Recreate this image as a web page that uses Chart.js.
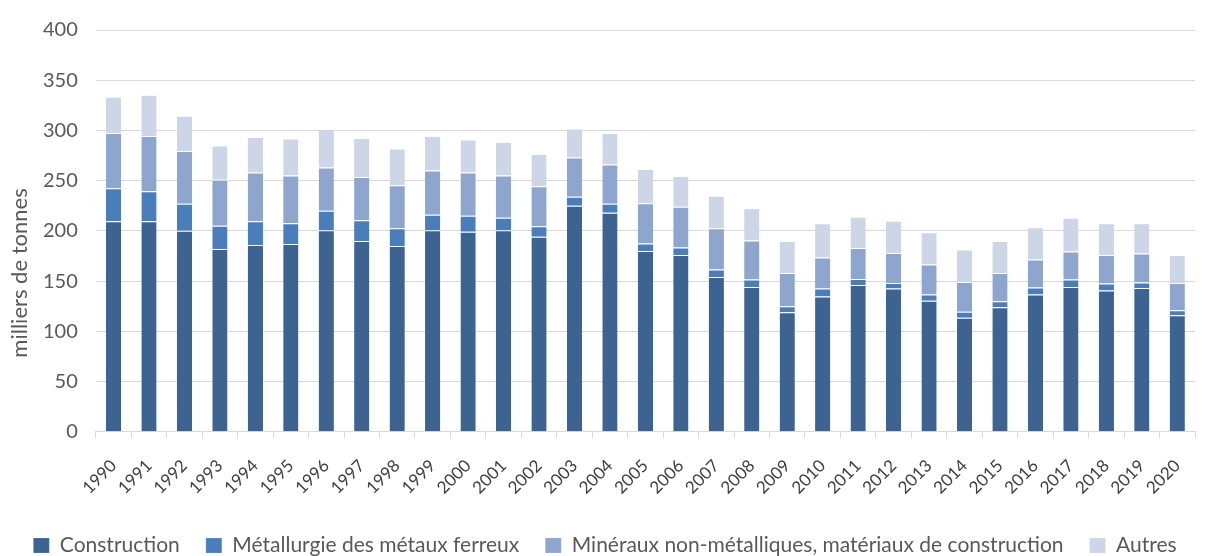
<!DOCTYPE html>
<html>
<head>
<meta charset="utf-8">
<script src="https://cdn.jsdelivr.net/npm/chart.js@4/dist/chart.umd.min.js"></script>
<style>
  html, body { margin: 0; padding: 0; background: #fff; }
  #wrap { width: 1210px; height: 556px; }
</style>
</head>
<body>
<div id="wrap"><canvas id="barChart"></canvas></div>
<script>
// Années
const years = ['1990', '1991', '1992', '1993', '1994', '1995', '1996', '1997', '1998', '1999',
               '2000', '2001', '2002', '2003', '2004', '2005', '2006', '2007', '2008', '2009',
               '2010', '2011', '2012', '2013', '2014', '2015', '2016', '2017', '2018', '2019', '2020'];

// milliers de tonnes par secteur
const construction = [209.5, 209.5, 200, 182, 186, 187, 200.5, 190, 185, 200.5,
                      199, 200.5, 194, 225, 218, 180, 176, 154, 144, 119,
                      134.5, 146, 142.5, 130.5, 113.5, 124, 136.5, 144, 140.5, 143, 116];
const metallurgie = [33, 30, 27, 23, 23.5, 20.5, 19.5, 20.5, 17.5, 15.5,
                     16, 12.5, 10.5, 9, 9, 7.5, 7.5, 7.5, 7.5, 6,
                     8, 6, 5.5, 6, 6, 6, 7, 7.5, 7, 5.5, 5];
const mineraux = [55, 55, 52.5, 46, 48.5, 47.5, 43, 43, 43, 44,
                  43, 42, 40, 39, 39, 40, 40.5, 41, 39, 33,
                  31, 31, 30, 30, 29.5, 28, 28, 28, 28.5, 29, 27];
const autres = [36, 41, 35, 34, 35.5, 37, 38.5, 39, 36.5, 34.5,
                33, 33.5, 32, 29, 31.5, 34, 30.5, 32.5, 32, 32,
                34, 31, 32, 32, 32.5, 32, 32, 33.5, 31.5, 30, 28];

const yTicks = [0, 50, 100, 150, 200, 250, 300, 350, 400];
const yTitle = 'milliers de tonnes';

const grey = '#d9d9d9';
const txt = '#595959';

function serie(label, data, color) {
    return {
        label: label,
        data: data,
        backgroundColor: color,
        borderColor: 'rgba(255,255,255,0.6)',
        borderWidth: { top: 1 },
        borderSkipped: false,
        barPercentage: 0.43,
        categoryPercentage: 1
    };
}

// titre de l'axe Y centré sur la hauteur totale du graphique (comme Excel)
const yTitlePlugin = {
    id: 'yTitle',
    afterDraw(chart) {
        const c = chart.ctx;
        c.save();
        c.translate(20, chart.height / 2 - 5);
        c.rotate(-Math.PI / 2);
        c.font = '22px Lato';
        c.fillStyle = txt;
        c.textAlign = 'center';
        c.textBaseline = 'middle';
        c.fillText(yTitle, 0, 0);
        c.restore();
    }
};

const ctx = document.getElementById('barChart').getContext('2d');

const barChart = new Chart(ctx, {
    type: 'bar',
    data: {
        labels: years,
        datasets: [
            serie('Construction', construction, '#3d6491'),
            serie('Métallurgie des métaux ferreux', metallurgie, '#4a7ebb'),
            serie('Minéraux non-métalliques, matériaux de construction', mineraux, '#8ea6ce'),
            serie('Autres', autres, '#cdd6e7')
        ]
    },
    plugins: [yTitlePlugin],
    options: {
        responsive: true,
        maintainAspectRatio: false,
        animation: false,
        layout: { padding: { top: 16, right: 0, left: 0, bottom: -10 } },
        scales: {
            x: {
                stacked: true,
                afterFit: function(axis) { axis.height -= 7; },
                grid: {
                    offset: true,
                    drawOnChartArea: false,
                    drawTicks: true,
                    tickLength: 6,
                    color: grey
                },
                border: { color: grey, width: 1 },
                ticks: {
                    autoSkip: false,
                    maxRotation: 45,
                    minRotation: 45,
                    color: '#404040',
                    font: { family: 'Lato', size: 17 },
                    padding: 18
                }
            },
            y: {
                stacked: true,
                min: 0,
                max: 400,
                afterBuildTicks: function(axis) {
                    axis.ticks = yTicks.map(v => ({ value: v }));
                },
                afterFit: function(axis) { axis.width += 25; },
                grid: {
                    color: grey,
                    lineWidth: 1,
                    drawTicks: false
                },
                border: { display: false },
                ticks: {
                    color: txt,
                    padding: 18,
                    font: { family: 'Lato', size: 20 }
                }
            },
            // marge à droite de la zone de tracé
            marge: {
                position: 'right',
                grid: { display: false },
                border: { display: false },
                ticks: { display: false },
                afterFit: function(axis) { axis.width = 15; }
            }
        },
        plugins: {
            legend: {
                position: 'bottom',
                labels: {
                    boxWidth: 16,
                    boxHeight: 15,
                    padding: 26,
                    color: txt,
                    font: { family: 'Lato', size: 21 }
                }
            },
            tooltip: { enabled: false }
        }
    }
});
</script>
</body>
</html>
